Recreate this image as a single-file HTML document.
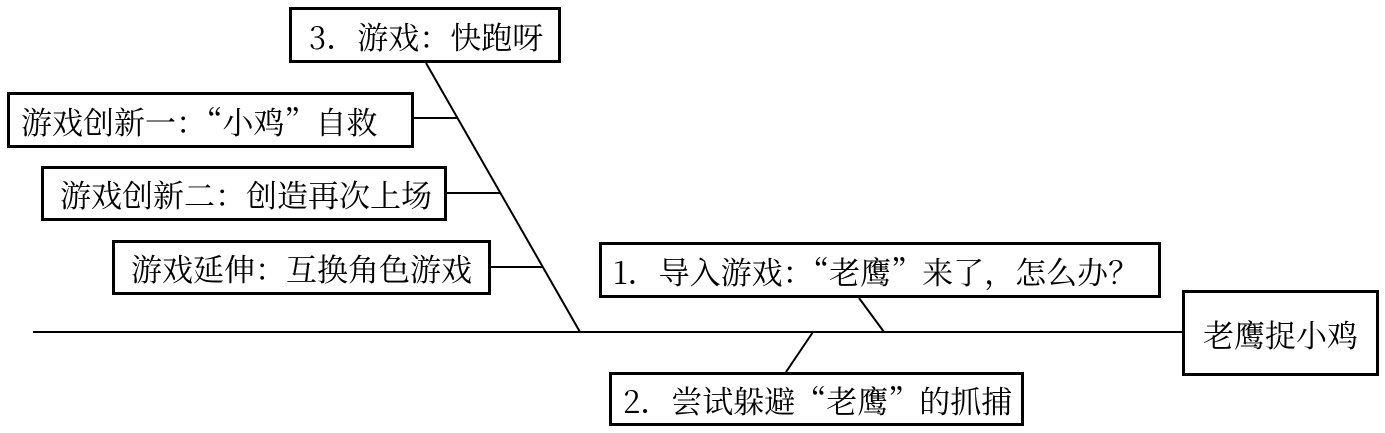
<!DOCTYPE html>
<html><head><meta charset="utf-8"><style>
body{margin:0;width:1385px;height:433px;background:#fff;position:relative;overflow:hidden;font-family:"Noto Serif CJK SC","Liberation Serif",serif;}
.b{position:absolute;border:3px solid #000;box-sizing:border-box;font-size:31px;line-height:1;display:flex;align-items:center;justify-content:flex-start;padding-left:11px;white-space:nowrap;color:#000;}
svg{position:absolute;left:0;top:0}
</style></head><body>
<svg width="1385" height="433">
<g stroke="#000" stroke-width="2" fill="none">
<line x1="33" y1="332" x2="1182" y2="332"/>
<line x1="426" y1="63" x2="580" y2="332"/>
<line x1="414" y1="118" x2="458" y2="118"/>
<line x1="447" y1="193" x2="501" y2="193"/>
<line x1="491" y1="267" x2="543" y2="267"/>
<line x1="859" y1="298" x2="884" y2="332"/>
<line x1="813" y1="332" x2="786" y2="372"/>
</g></svg>
<div class="b" style="left:289px;top:7px;width:272px;height:56px;padding-left:17px">3．游戏：快跑呀</div>
<div class="b" style="left:7px;top:92px;width:407px;height:56px">游戏创新一：“小鸡”自救</div>
<div class="b" style="left:41px;top:166px;width:406px;height:55px;padding-left:16px">游戏创新二：创造再次上场</div>
<div class="b" style="left:112px;top:240px;width:379px;height:55px;padding-left:16px">游戏延伸：互换角色游戏</div>
<div class="b" style="left:599px;top:242px;width:562px;height:56px">1．导入游戏：“老鹰”来了，怎么办？</div>
<div class="b" style="left:1182px;top:290px;width:197px;height:86px;padding-left:18px">老鹰捉小鸡</div>
<div class="b" style="left:609px;top:372px;width:415px;height:54px">2．尝试躲避“老鹰”的抓捕</div>
</body></html>
